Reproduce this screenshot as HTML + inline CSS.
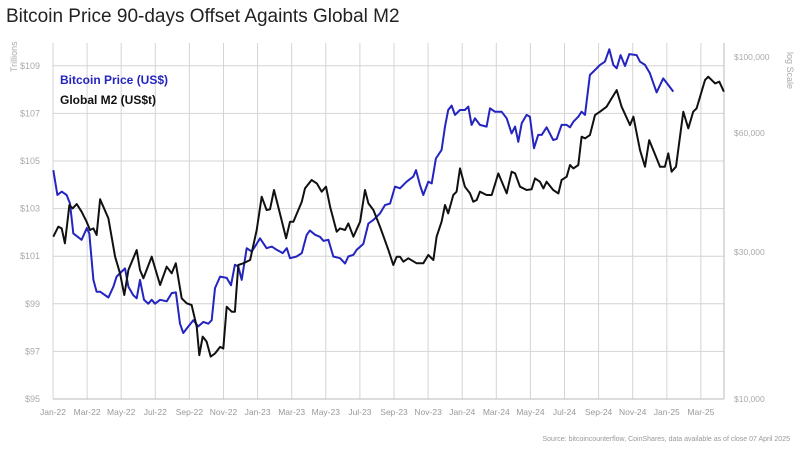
<!DOCTYPE html>
<html><head><meta charset="utf-8"><style>
body{margin:0;background:#fff;width:800px;height:456px;overflow:hidden;font-family:"Liberation Sans",sans-serif}
</style></head><body>
<svg id="chart" width="800" height="456" xmlns="http://www.w3.org/2000/svg">
<text x="6" y="22" font-size="19" fill="#222">Bitcoin Price 90-days Offset Againts Global M2</text>
<text transform="translate(17,72) rotate(-90)" font-size="9" fill="#aaa">Trillions</text>
<text transform="translate(787,52) rotate(90)" font-size="9" fill="#aaa">log Scale</text>
<g id="grid"></g>
<g id="axes"></g>
<g id="series"></g>
<text x="60" y="84" font-size="12" font-weight="bold" fill="#2424c0">Bitcoin Price (US$)</text>
<text x="60" y="104" font-size="12" font-weight="bold" fill="#111">Global M2 (US$t)</text>
<text x="790" y="441" font-size="7" fill="#999" text-anchor="end">Source: bitcoincounterflow, CoinShares, data available as of close 07 April 2025</text>
</svg>
<script>
const monthLabels=["Jan-22","Mar-22","May-22","Jul-22","Sep-22","Nov-22","Jan-23","Mar-23","May-23","Jul-23","Sep-23","Nov-23","Jan-24","Mar-24","May-24","Jul-24","Sep-24","Nov-24","Jan-25","Mar-25"];
const leftTicks=[95,97,99,101,103,105,107,109];
const rightTicks=[10000,30000,60000,100000];
const m2Months=[0.02,0.31,0.51,0.70,0.96,1.15,1.39,1.68,1.97,2.17,2.37,2.56,2.76,3.25,3.64,3.93,4.18,4.42,4.91,5.10,5.30,5.49,5.79,6.28,6.67,6.96,7.20,7.55,7.84,8.13,8.43,8.58,8.78,9.01,9.25,9.50,9.80,9.99,10.19,10.48,10.67,10.87,11.16,11.56,11.95,12.24,12.53,12.73,12.96,13.31,13.67,13.90,14.10,14.59,14.78,15.17,15.47,15.76,16.01,16.25,16.64,16.83,17.13,17.32,17.62,18.01,18.30,18.50,18.79,19.18,19.67,19.96,20.16,20.35,20.55,20.84,21.33,21.72,22.01,22.31,22.50,22.79,22.99,23.18,23.48,23.67,23.87,24.16,24.46,24.65,24.85,25.04,25.43,25.73,26.12,26.61,26.90,27.10,27.39,27.78,28.07,28.27,28.56,28.76,28.95,29.34,29.64,29.83,30.13,30.32,30.52,30.81,31.00,31.20,31.49,31.79,32.08,32.47,32.76,33.06,33.35,33.84,34.04,34.43,34.72,34.97,35.21,35.60,35.89,36.09,36.28,36.54,36.97,37.26,37.55,37.75,38.24,38.43,38.83,39.08,39.35];
const m2Values=[101.82,102.24,102.17,101.54,103.15,103.01,103.19,102.87,102.45,102.10,102.17,101.89,103.39,102.59,100.98,100.28,99.37,100.42,101.26,100.42,100.07,100.42,100.98,99.79,100.56,100.28,100.70,99.23,99.02,98.95,98.04,96.84,97.62,97.41,96.78,96.91,97.19,97.12,98.88,98.67,98.67,100.63,100.70,100.84,102.10,103.50,102.94,102.97,103.78,102.80,101.75,102.45,102.45,103.29,103.85,104.20,104.06,103.71,103.92,103.08,102.03,102.17,102.10,102.38,101.82,102.45,103.78,103.22,102.94,102.24,101.26,100.63,100.98,100.98,100.77,100.91,100.70,100.70,101.05,100.84,101.82,102.45,103.15,102.80,103.57,103.71,104.69,103.92,103.64,103.29,103.36,103.71,103.57,103.57,104.48,103.64,104.55,104.48,103.92,103.78,103.81,104.27,104.13,103.85,104.13,103.78,103.64,104.20,104.34,104.83,104.69,104.83,106.02,105.95,106.09,106.93,107.07,107.28,107.63,107.98,107.28,106.51,106.86,105.46,104.76,105.88,105.46,104.76,104.76,105.32,104.55,104.76,107.07,106.37,107.07,107.21,108.40,108.54,108.26,108.33,107.91];
const btcMonths=[0.02,0.26,0.51,0.80,1.00,1.19,1.68,1.98,2.13,2.37,2.56,2.76,3.25,3.54,3.73,4.22,4.42,4.71,4.91,5.10,5.34,5.59,5.79,5.98,6.28,6.67,6.96,7.21,7.45,7.64,7.94,8.23,8.52,8.82,9.11,9.31,9.50,9.80,10.19,10.44,10.67,10.87,11.07,11.36,11.65,11.85,12.14,12.53,12.83,13.12,13.47,13.71,13.90,14.29,14.59,14.88,15.07,15.37,15.66,15.86,16.15,16.44,16.83,17.13,17.32,17.62,17.81,18.20,18.50,18.79,19.18,19.47,19.77,20.06,20.35,20.74,21.13,21.29,21.52,21.72,22.01,22.21,22.46,22.79,22.99,23.18,23.38,23.58,23.87,24.16,24.36,24.55,24.75,25.04,25.43,25.63,25.92,26.31,26.61,26.90,27.10,27.29,27.49,27.78,27.97,28.21,28.46,28.66,28.95,29.34,29.54,29.83,30.13,30.32,30.52,30.81,31.00,31.20,31.49,31.79,32.08,32.37,32.63,32.86,33.06,33.29,33.55,33.80,34.23,34.43,34.72,35.01,35.40,35.79,36.09,36.38];
const btcValues=[46700,39500,40400,39500,37300,30500,29200,31600,30500,22300,20600,20600,19800,21300,22800,24100,21300,20100,19700,22300,19500,19000,19500,19000,19500,19300,20400,20500,16600,15600,16300,17000,16300,16800,16600,17000,21100,22800,22600,21500,24700,24400,22300,27600,27000,27900,29500,27600,27900,27300,26700,27600,25800,26100,26700,30200,31100,30200,29800,29000,29200,26100,25800,24900,26100,26400,27300,28400,32600,33400,34900,36900,37300,41800,41300,43200,44700,46700,42300,39500,43200,42700,50500,53500,62600,70000,72100,67700,70000,70000,71600,63300,66200,63300,62600,70800,69200,69200,66200,59800,62600,56500,64000,67700,66900,54100,59200,59200,62300,57200,57600,63300,63300,62300,64700,66900,69200,67700,88600,91600,94800,96900,105300,94800,92700,101300,94100,102000,101300,96900,94800,89600,78800,86600,82800,79200];

const NS="http://www.w3.org/2000/svg";
const X0=53,XR=724,MW=17.05,YB=399,YT=43;
const xScale=m=>X0+m*MW;
const yLeft=v=>YB-(v-95)*23.8;
const yRight=v=>YB-Math.log10(v/10000)*342;
function mk(tag,attrs,parent){const e=document.createElementNS(NS,tag);for(const k in attrs)e.setAttribute(k,attrs[k]);parent.appendChild(e);return e;}
const grid=document.getElementById('grid'),axes=document.getElementById('axes'),series=document.getElementById('series');
leftTicks.forEach(t=>{
  const y=yLeft(t);
  const l=mk('line',{x1:X0,x2:XR,y1:y,y2:y,stroke:'#d4d4d4','stroke-width':1},grid);
  
  
  const tx=mk('text',{x:40,y:y+3,'font-size':9,fill:'#aaa','text-anchor':'end'},axes);
  tx.textContent='$'+t;
  
  
});
monthLabels.forEach((lab,i)=>{
  const x=xScale(i*2);
  const l=mk('line',{x1:x,x2:x,y1:YT,y2:YB,stroke:'#d4d4d4','stroke-width':1},grid);
  
  
  const tx=mk('text',{x:x,y:415,'font-size':8.5,fill:'#999','text-anchor':'middle'},axes);
  tx.textContent=lab;
  
  
});
const ax=mk('line',{x1:X0,x2:XR,y1:YB,y2:YB,stroke:'#bbb','stroke-width':1},axes);


const ay=mk('line',{x1:XR,x2:XR,y1:YT,y2:YB,stroke:'#bbb','stroke-width':1},axes);


rightTicks.forEach(t=>{
  let y=yRight(t); if(t===30000) y=252;
  const tx=mk('text',{x:734,y:y+3,'font-size':8.5,fill:'#aaa'},axes);
  tx.textContent='$'+t.toLocaleString('en-US');
  
  
});
const bp=mk('polyline',{points:btcMonths.map((m,i)=>xScale(m).toFixed(1)+','+yRight(btcValues[i]).toFixed(1)).join(' '),fill:'none',stroke:'#2424c0','stroke-width':2,'stroke-linejoin':'round'},series);


const mp=mk('polyline',{points:m2Months.map((m,i)=>xScale(m).toFixed(1)+','+yLeft(m2Values[i]).toFixed(1)).join(' '),fill:'none',stroke:'#111','stroke-width':2,'stroke-linejoin':'round'},series);


</script>
</body></html>
